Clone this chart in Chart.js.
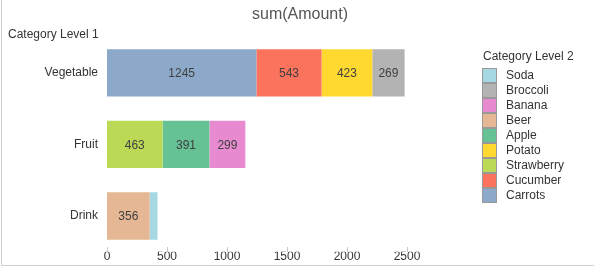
<!DOCTYPE html>
<html><head><meta charset="utf-8">
<script src="https://cdn.jsdelivr.net/npm/chart.js@4"></script>
<style>html,body{margin:0;padding:0;background:#fff}#wrap{width:594px;height:268px;position:relative}</style>
</head><body><div id="wrap"><canvas id="c" width="594" height="268"></canvas></div>
<script>
const categories = ['Vegetable', 'Fruit', 'Drink'];
const chartTitle = 'sum(Amount)';
const dimTitle = 'Category Level 1';
const legendTitle = 'Category Level 2';
const xTicks = [0, 500, 1000, 1500, 2000, 2500];
// series in stacking order (legend shows reversed)
const seriesNames = ['Carrots', 'Cucumber', 'Strawberry', 'Potato', 'Apple', 'Beer', 'Banana', 'Broccoli', 'Soda'];
const carrots    = [1245, null, null];
const cucumber   = [543, null, null];
const strawberry = [null, 463, null];
const potato     = [423, null, null];
const apple      = [null, 391, null];
const beer       = [null, null, 356];
const banana     = [null, 299, null];
const broccoli   = [269, null, null];
const soda       = [null, null, 65];
const seriesValues = [carrots, cucumber, strawberry, potato, apple, beer, banana, broccoli, soda];
const seriesColors = ['#8da9ca', '#fb735c', '#bcd955', '#ffd92f', '#66c295', '#e5b794', '#e78ad0', '#b3b3b3', '#a6d8e3'];

const FONT = '"Liberation Sans", Arial, sans-serif';

const extras = {
  id: 'extras',
  beforeDraw(chart) {
    const ctx = chart.ctx;
    ctx.save();
    ctx.fillStyle = '#fff';
    ctx.fillRect(0, 0, chart.width, chart.height);
    ctx.restore();
  },
  afterDatasetsDraw(chart) {
    const ctx = chart.ctx;
    ctx.save();
    ctx.font = '12px ' + FONT;
    ctx.fillStyle = '#404040';
    ctx.textAlign = 'center';
    ctx.textBaseline = 'middle';
    chart.data.datasets.forEach((ds, i) => {
      const meta = chart.getDatasetMeta(i);
      meta.data.forEach((el, j) => {
        const v = ds.data[j];
        if (v == null) return;
        const w = Math.abs(el.x - el.base);
        const txt = String(v);
        if (ctx.measureText(txt).width + 6 > w) return;
        ctx.fillText(txt, (el.x + el.base) / 2, el.y + 1);
      });
    });
    ctx.restore();
  },
  afterDraw(chart) {
    const ctx = chart.ctx;
    const xs = chart.scales.x;
    ctx.save();
    // frame
    ctx.strokeStyle = '#d0d0d0';
    ctx.lineWidth = 1;
    ctx.beginPath();
    ctx.moveTo(1.5, 0);
    ctx.lineTo(1.5, 265.5);
    ctx.lineTo(594, 265.5);
    ctx.stroke();
    // tick marks
    ctx.strokeStyle = '#c8c8c8';
    xTicks.forEach(t => {
      const px = Math.round(xs.getPixelForValue(t)) + 0.5;
      ctx.beginPath();
      ctx.moveTo(px, 247);
      ctx.lineTo(px, 252);
      ctx.stroke();
    });
    // title
    ctx.fillStyle = '#555';
    ctx.font = '16px ' + FONT;
    ctx.textAlign = 'center';
    ctx.textBaseline = 'middle';
    ctx.fillText(chartTitle, 300, 15);
    // dimension title
    ctx.fillStyle = '#333';
    ctx.font = '12px ' + FONT;
    ctx.textAlign = 'left';
    ctx.fillText(dimTitle, 8, 35);
    // legend
    ctx.fillText(legendTitle, 483, 57);
    const n = chart.data.datasets.length;
    for (let k = 0; k < n; k++) {
      const ds = chart.data.datasets[n - 1 - k];
      const cy = 75 + k * 15;
      ctx.fillStyle = ds.backgroundColor;
      ctx.fillRect(482, cy - 7, 15, 15);
      ctx.strokeStyle = '#999';
      ctx.strokeRect(482.5, cy - 6.5, 14, 14);
      ctx.fillStyle = '#333';
      ctx.fillText(ds.label, 506, cy + 1);
    }
    ctx.restore();
  }
};

new Chart(document.getElementById('c'), {
  type: 'bar',
  data: {
    labels: categories,
    datasets: seriesNames.map((name, i) => ({
      label: name,
      data: seriesValues[i],
      backgroundColor: seriesColors[i],
      borderWidth: 0,
      barPercentage: 0.66,
      categoryPercentage: 1,
      skipNull: true
    }))
  },
  options: {
    indexAxis: 'y',
    responsive: false,
    animation: false,
    devicePixelRatio: 1,
    layout: { padding: { top: 37, right: 187, left: 0, bottom: 0 } },
    plugins: { legend: { display: false }, title: { display: false }, tooltip: { enabled: false } },
    scales: {
      x: {
        stacked: true, min: 0, max: 2500,
        grid: { display: false, drawTicks: false },
        border: { display: false },
        afterBuildTicks(scale) { scale.ticks = xTicks.map(v => ({ value: v })); },
        afterFit(scale) { scale.height = 16; },
        ticks: { padding: -2, color: '#333', font: { family: FONT, size: 12 }, callback: v => String(v) }
      },
      y: {
        stacked: true,
        grid: { display: false, drawTicks: false },
        border: { display: false },
        afterFit(scale) { scale.width = 107; },
        ticks: { padding: 9, color: '#333', font: { family: FONT, size: 12 } }
      }
    }
  },
  plugins: [extras]
});
</script></body></html>
